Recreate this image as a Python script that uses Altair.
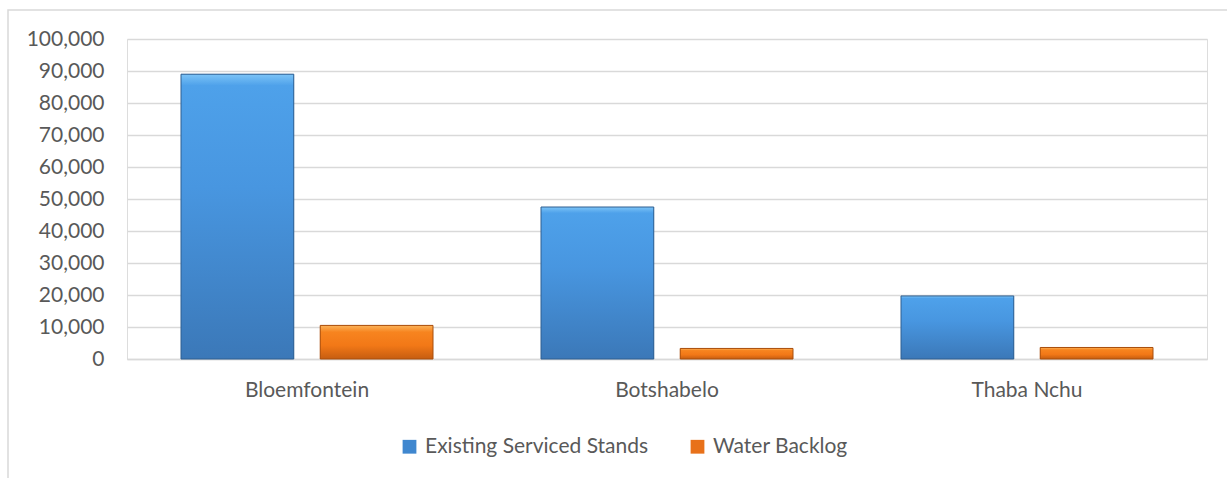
import altair as alt
import pandas as pd

categories = ["Bloemfontein", "Botshabelo", "Thaba Nchu"]
series = ["Existing Serviced Stands", "Water Backlog"]
existing = [89000, 47500, 19700]
backlog = [10500, 3300, 3600]

rows = []
for c, e, b in zip(categories, existing, backlog):
    rows.append({"area": c, "series": series[0], "value": e})
    rows.append({"area": c, "series": series[1], "value": b})
df = pd.DataFrame(rows)

FONT = "Lato"
TXT = "#595959"
GRID = "#d9d9d9"
FS = 21

x_enc = alt.X("area:N", sort=categories, title=None,
              scale=alt.Scale(paddingInner=0.3, paddingOuter=0.15),
              axis=alt.Axis(labelAngle=0, labelPadding=20, ticks=False,
                            domain=True, domainColor=GRID, domainWidth=1.5,
                            labelFontSize=FS, labelColor=TXT, labelFont=FONT))
xo_enc = alt.XOffset("series:N", sort=series,
                     scale=alt.Scale(paddingInner=0.19, paddingOuter=0))
y_enc = alt.Y("value:Q", title=None,
              scale=alt.Scale(domain=[0, 100000]),
              axis=alt.Axis(values=list(range(0, 100001, 10000)), format=",.0f",
                            grid=True, gridColor=GRID, gridWidth=1.5,
                            domain=False, ticks=False, labelPadding=23,
                            labelFontSize=FS, labelColor=TXT, labelFont=FONT))

base = alt.Chart(df).encode(x=x_enc, xOffset=xo_enc, y=y_enc)

bars = base.mark_bar(strokeWidth=1).encode(
    color=alt.Color("series:N", sort=series, title=None,
                    scale=alt.Scale(domain=series, range=["#3f87cf", "#e8711a"]),
                    legend=alt.Legend(orient="none", legendX=272, legendY=397,
                                      direction="horizontal", symbolType="square",
                                      symbolSize=190, symbolStrokeWidth=0,
                                      labelFontSize=FS, labelColor=TXT, labelFont=FONT,
                                      labelLimit=400, labelOffset=5, columnPadding=38)),
)

blue_grad = alt.Gradient(gradient="linear", x1=0, y1=0, x2=0, y2=1, stops=[
    alt.GradientStop(color="#7cc4f7", offset=0),
    alt.GradientStop(color="#4ea1ea", offset=0.04),
    alt.GradientStop(color="#4896e0", offset=0.4),
    alt.GradientStop(color="#3b78b8", offset=1)])
orange_grad = alt.Gradient(gradient="linear", x1=0, y1=0, x2=0, y2=1, stops=[
    alt.GradientStop(color="#fbb35a", offset=0),
    alt.GradientStop(color="#f7841f", offset=0.2),
    alt.GradientStop(color="#f27817", offset=0.6),
    alt.GradientStop(color="#c65d10", offset=1)])

blue = base.transform_filter(alt.datum.series == series[0]).mark_bar(
    fill=blue_grad, stroke="#2f5f90", strokeWidth=1)
orange = base.transform_filter(alt.datum.series == series[1]).mark_bar(
    fill=orange_grad, stroke="#a84e0c", strokeWidth=1)

frame = alt.Chart(pd.DataFrame({"k": [0]})).mark_rect(
    fill=None, stroke=GRID, strokeWidth=1.5).encode(
    x=alt.value(-119), x2=alt.value(1140), y=alt.value(-29), y2=alt.value(470))

chart = alt.layer(frame, bars, blue, orange).properties(
    width=1080, height=320,
    autosize=alt.AutoSizeParams(type="none"),
    padding={"left": 127, "top": 39, "right": 20, "bottom": 119},
).configure_view(stroke=None).configure(background="white")

chart.save("out.html", embed_options={"renderer": "svg", "actions": False})
